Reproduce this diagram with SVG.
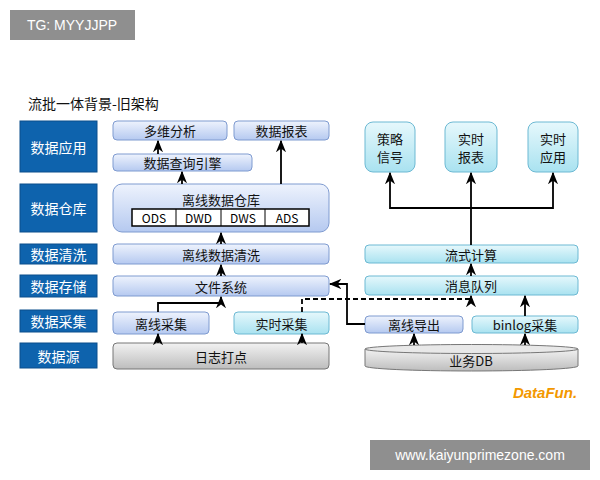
<svg xmlns="http://www.w3.org/2000/svg" width="600" height="480" viewBox="0 0 600 480">
<defs>
<linearGradient id="gb" x1="0" y1="0" x2="0" y2="1"><stop offset="0" stop-color="#eef3fd"/><stop offset="1" stop-color="#b5c9f0"/></linearGradient>
<linearGradient id="gc" x1="0" y1="0" x2="0" y2="1"><stop offset="0" stop-color="#e6f8fc"/><stop offset="1" stop-color="#a9e2f0"/></linearGradient>
<linearGradient id="gg" x1="0" y1="0" x2="0" y2="1"><stop offset="0" stop-color="#f2f2f2"/><stop offset="1" stop-color="#bdbdbd"/></linearGradient>
<marker id="ar" viewBox="0 0 10 10" refX="9" refY="5" markerWidth="7" markerHeight="7" orient="auto-start-reverse"><path d="M0,1 L10,5 L0,9 L3,5 Z" fill="#000"/></marker>
<style>
text{font-family:"Noto Sans CJK SC","Noto Sans",sans-serif;text-anchor:middle;dominant-baseline:central}
.side rect{fill:#0e63ad;stroke:#0b4f8c}
.side text{fill:#fff;font-size:14px}
.b{fill:url(#gb);stroke:#7f9bd0;stroke-width:1}
.c{fill:url(#gc);stroke:#6cb9d3;stroke-width:1}
.t{font-size:13px;fill:#111}
.cn{fill:none;stroke:#000;stroke-width:1.8;marker-end:url(#ar)}
</style>
</defs>
<rect width="600" height="480" fill="#fff"/>
<rect x="10" y="10" width="125" height="30" fill="#8f8f8f"/>
<text x="72" y="25" style="fill:#fff;font-size:14px;font-family:'Liberation Sans',sans-serif">TG: MYYJJPP</text>
<text x="28" y="103" style="text-anchor:start;font-size:14px;fill:#111">流批一体背景-旧架构</text>
<g class="side">
<g id="s1"><rect x="20" y="121" width="77" height="51"/><text x="58.5" y="146.5">数据应用</text></g>
<g id="s2"><rect x="20" y="184" width="77" height="48"/><text x="58.5" y="208">数据仓库</text></g>
<g id="s3"><rect x="20" y="244" width="77" height="20"/><text x="58.5" y="254">数据清洗</text></g>
<g id="s4"><rect x="20" y="275" width="77" height="22"/><text x="58.5" y="286">数据存储</text></g>
<g id="s5"><rect x="20" y="310" width="77" height="22"/><text x="58.5" y="321">数据采集</text></g>
<g id="s6"><rect x="20" y="343" width="77" height="25"/><text x="58.5" y="355.5">数据源</text></g>
</g>
<g id="n1"><rect class="b" x="113" y="121" width="114" height="19" rx="4"/><text class="t" x="170" y="130.5">多维分析</text></g>
<g id="n2"><rect class="b" x="234" y="121" width="95" height="19" rx="4"/><text class="t" x="281.5" y="130.5">数据报表</text></g>
<g id="n3"><rect class="b" x="113" y="154" width="139" height="17" rx="4"/><text class="t" x="182.5" y="162.5">数据查询引擎</text></g>
<g id="n4"><rect class="b" x="113" y="184" width="216" height="48" rx="9"/><text class="t" x="221" y="199">离线数据仓库</text>
<g style="font-size:12px"><rect x="132" y="209" width="177" height="17" fill="#fff" stroke="#000" stroke-width="1.5"/>
<line x1="176" y1="209" x2="176" y2="226" stroke="#000"/><line x1="221" y1="209" x2="221" y2="226" stroke="#000"/><line x1="265" y1="209" x2="265" y2="226" stroke="#000"/>
<text x="154" y="217.5" style="font-size:12px">ODS</text><text x="198.5" y="217.5" style="font-size:12px">DWD</text><text x="243" y="217.5" style="font-size:12px">DWS</text><text x="287" y="217.5" style="font-size:12px">ADS</text></g></g>
<g id="n5"><rect class="b" x="113" y="244" width="216" height="20" rx="4"/><text class="t" x="221" y="254">离线数据清洗</text></g>
<g id="n6"><rect class="b" x="113" y="276" width="216" height="20" rx="4"/><text class="t" x="221" y="286">文件系统</text></g>
<g id="n7"><rect class="b" x="113" y="312" width="96" height="22" rx="4"/><text class="t" x="161" y="323">离线采集</text></g>
<g id="n8"><rect class="c" x="234" y="312" width="95" height="22" rx="4"/><text class="t" x="281.5" y="323">实时采集</text></g>
<g id="n9"><rect x="113" y="343" width="216" height="26" rx="4" fill="url(#gg)" stroke="#777"/><text class="t" x="221" y="356">日志打点</text></g>
<g id="r1"><rect class="c" x="365" y="122" width="50" height="50" rx="8"/><text class="t" x="390" y="138">策略</text><text class="t" x="390" y="156">信号</text></g>
<g id="r2"><rect class="c" x="445" y="122" width="52" height="50" rx="8"/><text class="t" x="471" y="138">实时</text><text class="t" x="471" y="156">报表</text></g>
<g id="r3"><rect class="c" x="528" y="122" width="50" height="50" rx="8"/><text class="t" x="553" y="138">实时</text><text class="t" x="553" y="156">应用</text></g>
<g id="r4"><rect class="c" x="365" y="245" width="213" height="18" rx="4"/><text class="t" x="471" y="254">流式计算</text></g>
<g id="r5"><rect class="c" x="365" y="276" width="213" height="19" rx="4"/><text class="t" x="471" y="285.5">消息队列</text></g>
<g id="r6"><rect class="b" x="365" y="316" width="98" height="17" rx="4"/><text class="t" x="414" y="324.5">离线导出</text></g>
<g id="r7"><rect class="c" x="472" y="316" width="106" height="17" rx="4"/><text class="t" x="525" y="324.5">binlog采集</text></g>
<g id="r8"><path d="M365,349 L365,366 A106.5,5 0 0 0 578,366 L578,349 Z" fill="url(#gg)" stroke="#777"/><ellipse cx="471.5" cy="349" rx="106.5" ry="4.5" fill="#e8e8e8" stroke="#777"/><text class="t" x="471" y="360">业务DB</text></g>
<g id="connectors">
<path class="cn" d="M158,343 V334"/>
<path class="cn" d="M302,343 V334"/>
<path class="cn" d="M158,312 V303 H221 V297"/>
<path class="cn" d="M221,276 V265"/>
<path class="cn" d="M221,244 V233"/>
<path class="cn" d="M182,184 V172"/>
<path class="cn" d="M158,154 V141"/>
<path class="cn" d="M281,184 V141"/>
<path class="cn" d="M365,324 H347 V284 H330"/>
<path class="cn" style="stroke-dasharray:5,3" d="M302,312 V299 H471 V296"/>
<path class="cn" d="M414,345 V334"/>
<path class="cn" d="M525,345 V334"/>
<path class="cn" d="M525,316 V296"/>
<path class="cn" d="M471,276 V264"/>
<path class="cn" d="M471,245 V173"/>
<path class="cn" d="M471,208 H390 V173"/>
<path class="cn" d="M471,208 H553 V173"/>
</g>
<text x="545" y="392" style="font-family:'Liberation Sans',sans-serif;font-style:italic;font-weight:bold;font-size:15px;fill:#f39800">DataFun.</text>
<rect x="370" y="440" width="220" height="30" fill="#8f8f8f"/>
<text x="480" y="455" style="fill:#fff;font-size:14px;font-family:'Liberation Sans',sans-serif">www.kaiyunprimezone.com</text>
</svg>
